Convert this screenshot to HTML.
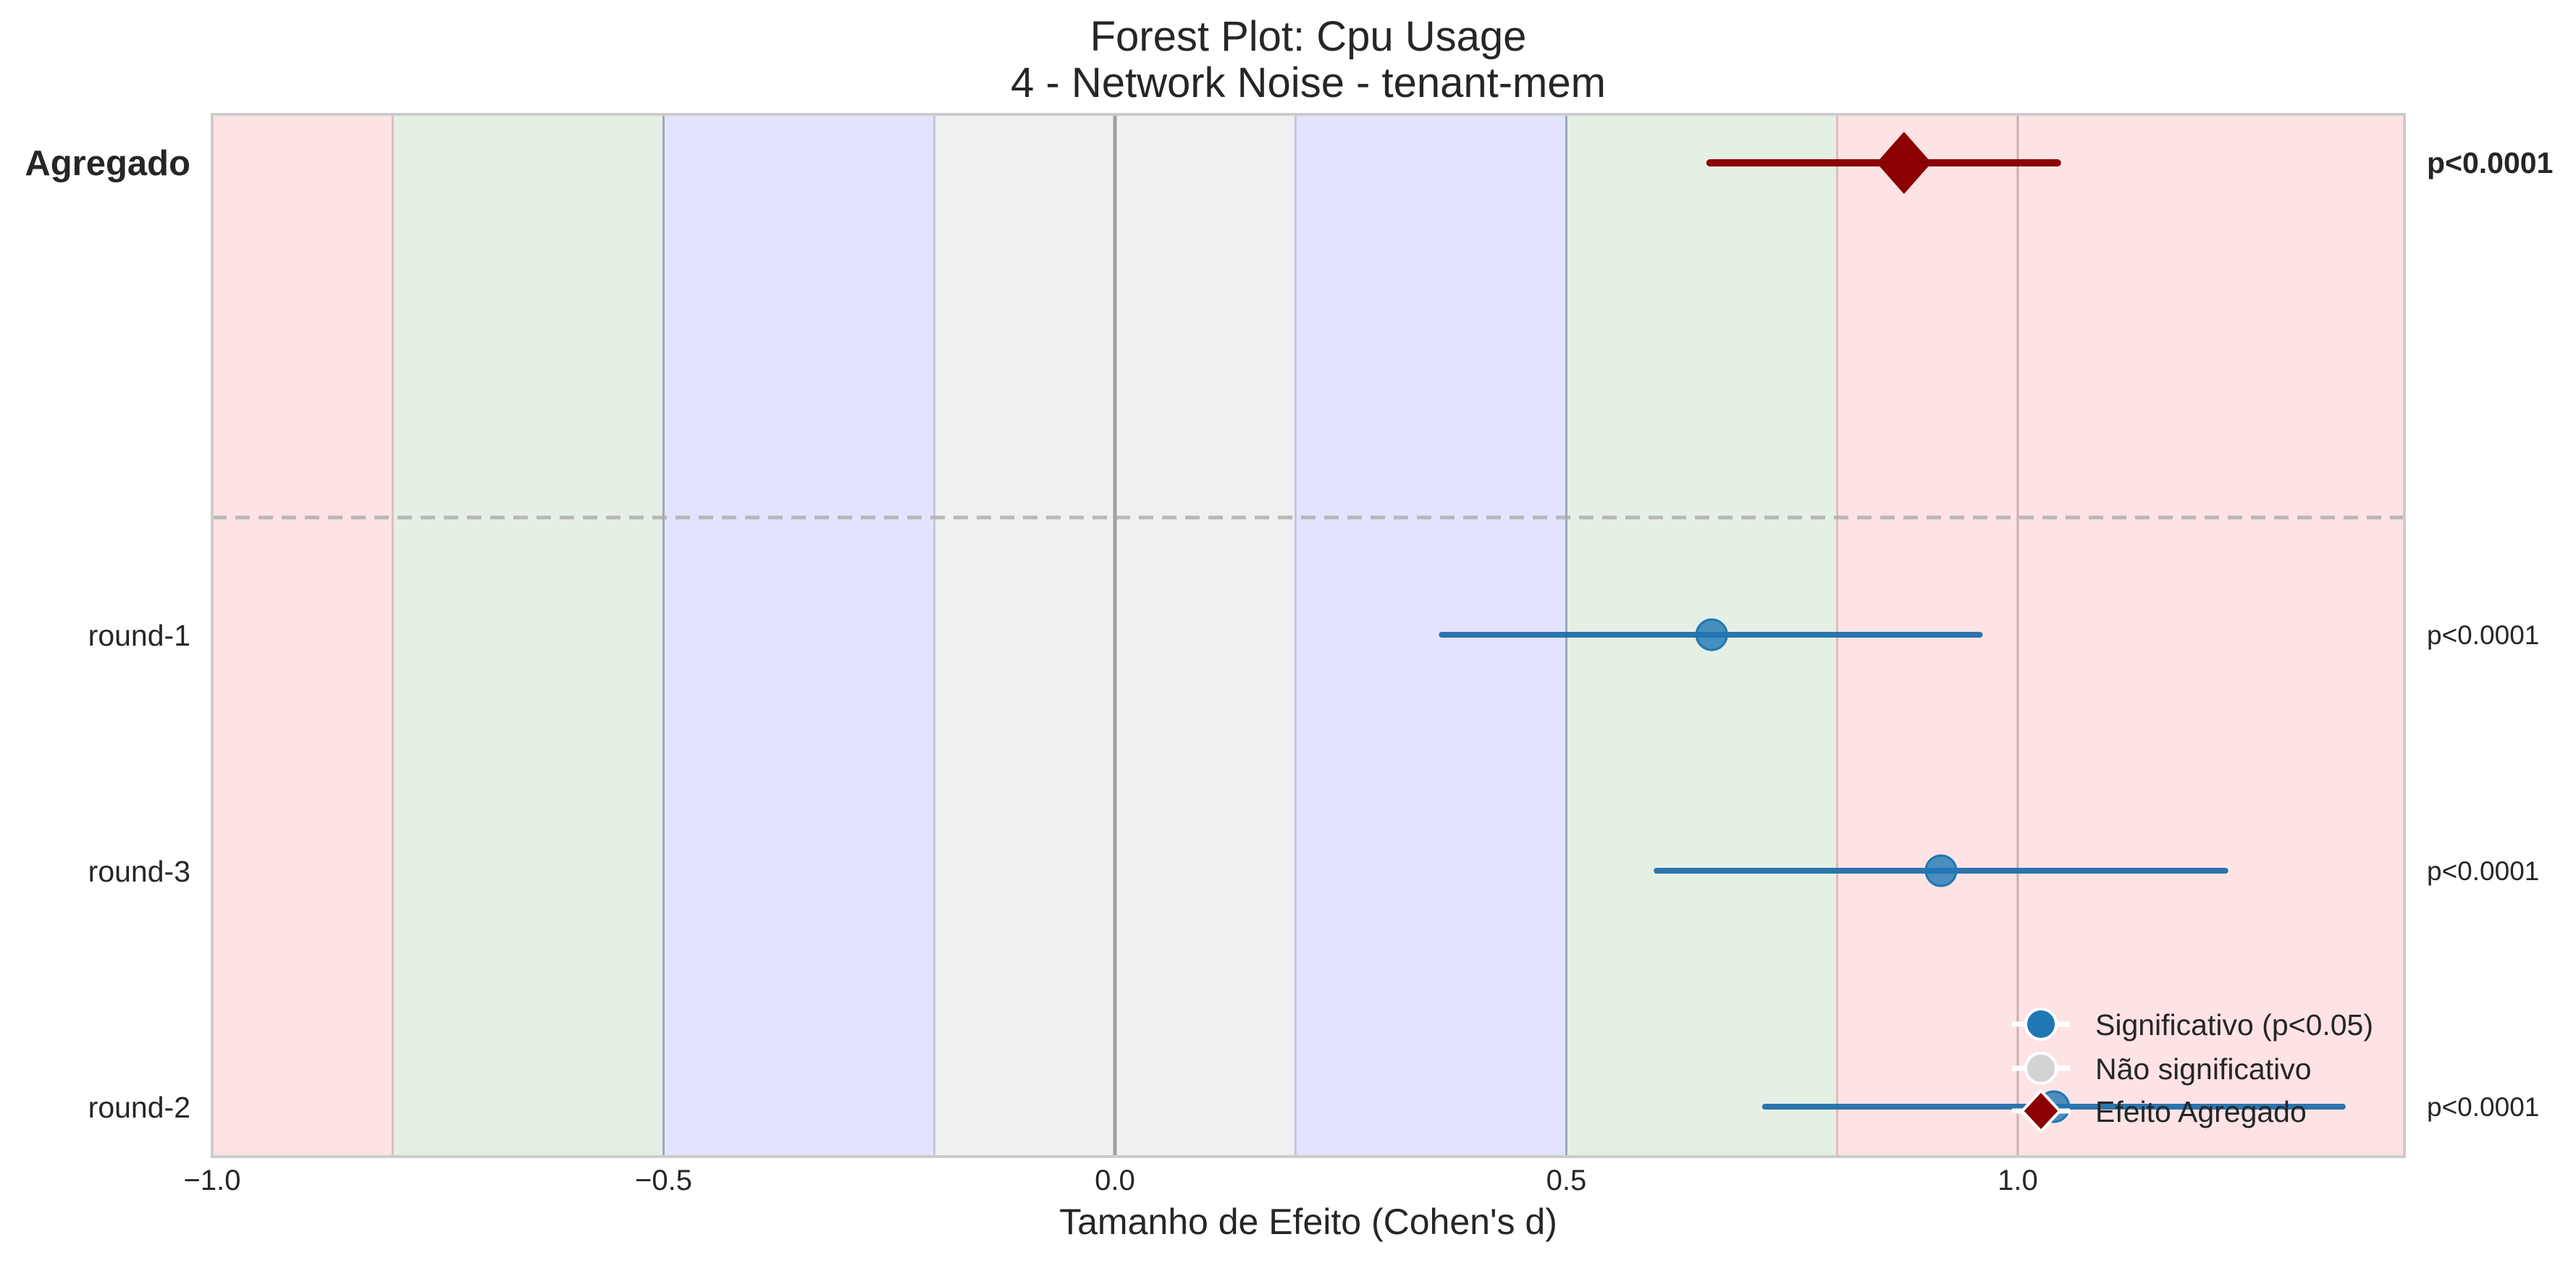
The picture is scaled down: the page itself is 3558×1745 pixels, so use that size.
<!DOCTYPE html>
<html><head><meta charset="utf-8"><style>
html,body{margin:0;padding:0;background:#fff;}
svg{display:block;font-family:"Liberation Sans",sans-serif;}
</style></head><body>
<svg id="chart" width="3558" height="1745" viewBox="0 0 3558 1745" xmlns="http://www.w3.org/2000/svg">
<g id="bands"></g>
<g id="vlines"></g>
<line x1="293" x2="3321" y1="715" y2="715" stroke="#aaaaaa" stroke-opacity="0.8" stroke-width="5" stroke-dasharray="20,12"/>
<g id="marks"></g>
<rect x="293" y="158" width="3028" height="1440" fill="none" stroke="#cccccc" stroke-width="4"/>
<g id="xticks"></g>
<g id="ylabels"></g>
<g id="plabels"></g>
<text x="1807" y="70" font-size="58" text-anchor="middle" fill="#262626">Forest Plot: Cpu Usage</text>
<text x="1807" y="134" font-size="58" text-anchor="middle" fill="#262626">4 - Network Noise - tenant-mem</text>
<text x="1807" y="1705" font-size="50" text-anchor="middle" fill="#262626">Tamanho de Efeito (Cohen's d)</text>
<g>
  <line x1="2779" x2="2859" y1="1415" y2="1415" stroke="#fff" stroke-width="7"/>
  <circle cx="2819" cy="1415" r="21" fill="#1f77b4" stroke="#fff" stroke-width="4"/>
  <text x="2894" y="1430" font-size="41" fill="#262626">Significativo (p&lt;0.05)</text>
  <line x1="2779" x2="2859" y1="1476" y2="1476" stroke="#fff" stroke-width="7"/>
  <circle cx="2819" cy="1476" r="21" fill="#d3d3d3" stroke="#fff" stroke-width="4"/>
  <text x="2894" y="1491" font-size="41" fill="#262626">Não significativo</text>
  <line x1="2779" x2="2859" y1="1535" y2="1535" stroke="#fff" stroke-width="7"/>
  <polygon points="2819,1507 2845,1535 2819,1563 2793,1535" fill="#8b0000" stroke="#fff" stroke-width="4"/>
  <text x="2894" y="1550" font-size="41" fill="#262626">Efeito Agregado</text>
</g>
</svg>
<script>
const labels = ["round-2","round-3","round-1"];
const effects = [1.04, 0.915, 0.661];
const ciLow = [0.72, 0.60, 0.362];
const ciHigh = [1.36, 1.23, 0.958];
const pTexts = ["p<0.0001","p<0.0001","p<0.0001"];
const aggEffect = 0.874;
const aggLow = 0.659;
const aggHigh = 1.044;
const aggP = "p<0.0001";
const xTicks = [-1.0, -0.5, 0.0, 0.5, 1.0];
const xTickLabels = ["\u22121.0","\u22120.5","0.0","0.5","1.0"];

const NS = "http://www.w3.org/2000/svg";
const X0 = 293, X1 = 3321, XMIN = -1.0, XMAX = 1.4283;
function xs(v){ return X0 + (v - XMIN) / (XMAX - XMIN) * (X1 - X0); }
function ys(v){ return 1529 - 326 * v; }
function mk(tag, attrs, parent){ const e = document.createElementNS(NS, tag); for (const k in attrs) e.setAttribute(k, attrs[k]); parent.appendChild(e); return e; }

const bands = document.getElementById('bands');
const bandDefs = [[-1.0,-0.8,"#fde3e4"],[-0.8,-0.5,"#e5f0e5"],[-0.5,-0.2,"#e3e3fd"],[-0.2,0.2,"#f0f0f0"],[0.2,0.5,"#e3e3fd"],[0.5,0.8,"#e5f0e5"],[0.8,XMAX,"#fde3e4"]];
bandDefs.forEach(b => {
  const r = mk('rect', {x: xs(b[0]), y: 158, width: xs(b[1]) - xs(b[0]), height: 1440, fill: b[2]}, bands);
  
  
});
const vl = document.getElementById('vlines');
[[-0.8,"#dcbfb5"],[-0.5,"#9aaabb"],[-0.2,"#c5c5e5"],[0.2,"#c5c5e5"],[0.5,"#9aaabb"],[0.8,"#dcbfb5"],[1.0,"#c8b0b0"]].forEach(l => {
  const e = mk('line', {x1: xs(l[0]), x2: xs(l[0]), y1: 158, y2: 1598, stroke: l[1], 'stroke-width': 3}, vl);
  
  
});
const zl = mk('line', {x1: xs(0), x2: xs(0), y1: 158, y2: 1598, stroke: "#a0a0a0", 'stroke-width': 5}, vl);



const marks = document.getElementById('marks');
const ylab = document.getElementById('ylabels');
const plab = document.getElementById('plabels');
labels.forEach((lab, i) => {
  const y = ys(i);
  const ci = mk('line', {x1: xs(ciLow[i]), x2: xs(ciHigh[i]), y1: y, y2: y, stroke: "#1a6aa8", 'stroke-opacity': 0.92, 'stroke-width': 8, 'stroke-linecap': 'round'}, marks);
  
  
  const c = mk('circle', {cx: xs(effects[i]), cy: y, r: 21, fill: "#1f77b4", 'fill-opacity': 0.8, stroke: "#1f77b4", 'stroke-width': 3}, marks);
  
  
  const t = mk('text', {x: 263, y: y + 15, 'font-size': 41, 'text-anchor': 'end', fill: '#262626'}, ylab);
  t.textContent = lab;
  
  
  const p = mk('text', {x: 3352, y: y + 13, 'font-size': 37, fill: '#262626'}, plab);
  p.textContent = pTexts[i];
  
  
});
const ya = ys(4);
const al = mk('line', {x1: xs(aggLow), x2: xs(aggHigh), y1: ya, y2: ya, stroke: "#8b0000", 'stroke-width': 10, 'stroke-linecap': 'round'}, marks);


const ax = xs(aggEffect);
const ad = mk('polygon', {points: `${ax},${ya-43} ${ax+38},${ya} ${ax},${ya+43} ${ax-38},${ya}`, fill: "#8b0000"}, marks);


const at = mk('text', {x: 263, y: ya + 17, 'font-size': 49, 'font-weight': 'bold', 'text-anchor': 'end', fill: '#262626'}, ylab);
at.textContent = "Agregado";


const ap = mk('text', {x: 3352, y: ya + 14, 'font-size': 41, 'font-weight': 'bold', fill: '#262626'}, plab);
ap.textContent = aggP;



const xt = document.getElementById('xticks');
xTicks.forEach((v, i) => {
  const t = mk('text', {x: xs(v), y: 1644, 'font-size': 40, 'text-anchor': 'middle', fill: '#262626'}, xt);
  t.textContent = xTickLabels[i];
  
  
});
</script>
</body></html>
